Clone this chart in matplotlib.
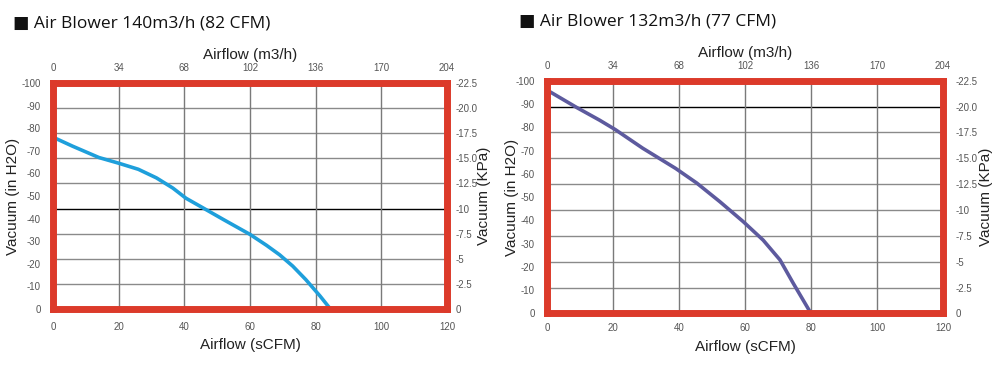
import numpy as np
import matplotlib
matplotlib.use("Agg")
import matplotlib.pyplot as plt

plt.rcParams['font.family'] = ['Liberation Sans', 'Noto Sans CJK SC']

# Blower curves (sCFM vs. vacuum in "in H2O" scale)
left_cfm = [0, 6, 14, 20, 26, 31.5, 36.5, 40.5, 45, 52, 60, 65, 69, 73, 77, 81.3, 84.5]
left_vac = [76, 72, 67, 64.5, 61.8, 58, 53.5, 49, 45.3, 39.5, 33, 28.2, 24, 19, 13, 5.8, 0]

right_cfm = [0, 9, 16, 20.7, 29, 39, 45.4, 52.4, 59.5, 65.5, 70.6, 74.6, 80]
right_vac = [96, 88.5, 83, 79, 71, 62.3, 56, 48, 39.4, 31.5, 23, 13, 0]

cfm_ticks = [0, 20, 40, 60, 80, 100, 120]
m3h_ticks = [0, 34, 68, 102, 136, 170, 204]
inh2o_ticks = [0, 10, 20, 30, 40, 50, 60, 70, 80, 90, 100]
kpa_ticks = [0, 2.5, 5, 7.5, 10, 12.5, 15.0, 17.5, 20.0, 22.5]
kpa_labels = ["0", "-2.5", "-5", "-7.5", "-10", "-12.5", "-15.0", "-17.5", "-20.0", "-22.5"]

titles = ["Air Blower 140m3/h (82 CFM)", "Air Blower 132m3/h (77 CFM)"]
line_colors = ["#1e9fdb", "#5d5a9e"]
dark_kpa = [10, 20.0]   # the one gridline drawn darker in each chart

RED = "#dc3a2a"
TICK_COLOR = "#555555"
LABEL_COLOR = "#222222"
KPA_MAX = 22.5


def draw_panel(fig, rect, cfm, vac, color, title, dark, title_xy, xpad, lpad, rpad, rtick):
    ax = fig.add_axes(rect)
    ax.set_xlim(0, 120)
    ax.set_ylim(0, 100)

    # gridlines follow the kPa scale on the right
    for k in kpa_ticks[1:]:
        g = k / KPA_MAX * 100
        c = "black" if (k == dark or k == KPA_MAX) else "#8a8a8a"
        ax.axhline(g, color=c, lw=1.0, zorder=1, clip_on=(k != KPA_MAX))
    for x in cfm_ticks[1:-1]:
        ax.axvline(x, color="#7a7a7a", lw=1.0, zorder=1)

    ax.plot(cfm, vac, color=color, lw=2.6, zorder=3,
            solid_capstyle="round", solid_joinstyle="round")

    for s in ax.spines.values():
        s.set_color(RED)
        s.set_linewidth(5)
        s.set_zorder(4)

    ax.set_xticks(cfm_ticks)
    ax.set_xticklabels([str(v) for v in cfm_ticks])
    ax.set_yticks(inh2o_ticks)
    ax.set_yticklabels(["-%d" % v if v else "0" for v in inh2o_ticks])
    ax.tick_params(length=0, labelsize=7, colors=TICK_COLOR, pad=9)
    ax.tick_params(axis="x", pad=xpad)
    ax.set_xlabel("Airflow (sCFM)", fontsize=11, color=LABEL_COLOR, labelpad=5)
    ax.set_ylabel("Vacuum (in H2O)", fontsize=11, color=LABEL_COLOR, labelpad=lpad)

    top = ax.secondary_xaxis("top", functions=(lambda v: v * 1.7, lambda v: v / 1.7))
    top.set_xticks(m3h_ticks)
    top.set_xticklabels([str(v) for v in m3h_ticks])
    top.tick_params(length=0, labelsize=7, colors=TICK_COLOR, pad=7)
    top.spines["top"].set_visible(False)
    top.set_xlabel("Airflow (m3/h)", fontsize=11, color=LABEL_COLOR, labelpad=3)

    right = ax.secondary_yaxis("right", functions=(lambda v: v * KPA_MAX / 100,
                                                   lambda k: k * 100 / KPA_MAX))
    right.set_yticks(kpa_ticks)
    right.set_yticklabels(kpa_labels)
    right.tick_params(length=0, labelsize=7, colors=TICK_COLOR, pad=rtick)
    right.spines["right"].set_visible(False)
    right.set_ylabel("Vacuum (KPa)", fontsize=11, color=LABEL_COLOR, labelpad=rpad)

    fig.text(title_xy[0], title_xy[1], "■ " + title, fontsize=12.5,
             family=["Open Sans", "DejaVu Sans"], color="#111111", va="center")
    return ax


fig = plt.figure(figsize=(10, 3.67), dpi=100)
draw_panel(fig, [0.053, 0.158, 0.394, 0.616], left_cfm, left_vac, line_colors[0],
           titles[0], dark_kpa[0], (0.013, 1 - 24 / 367), 9, 1, 0, 6)
draw_panel(fig, [0.547, 0.146, 0.396, 0.634], right_cfm, right_vac, line_colors[1],
           titles[1], dark_kpa[1], (0.519, 1 - 21 / 367), 7, -3, 1, 9)

fig.savefig("out.png", dpi=100)
